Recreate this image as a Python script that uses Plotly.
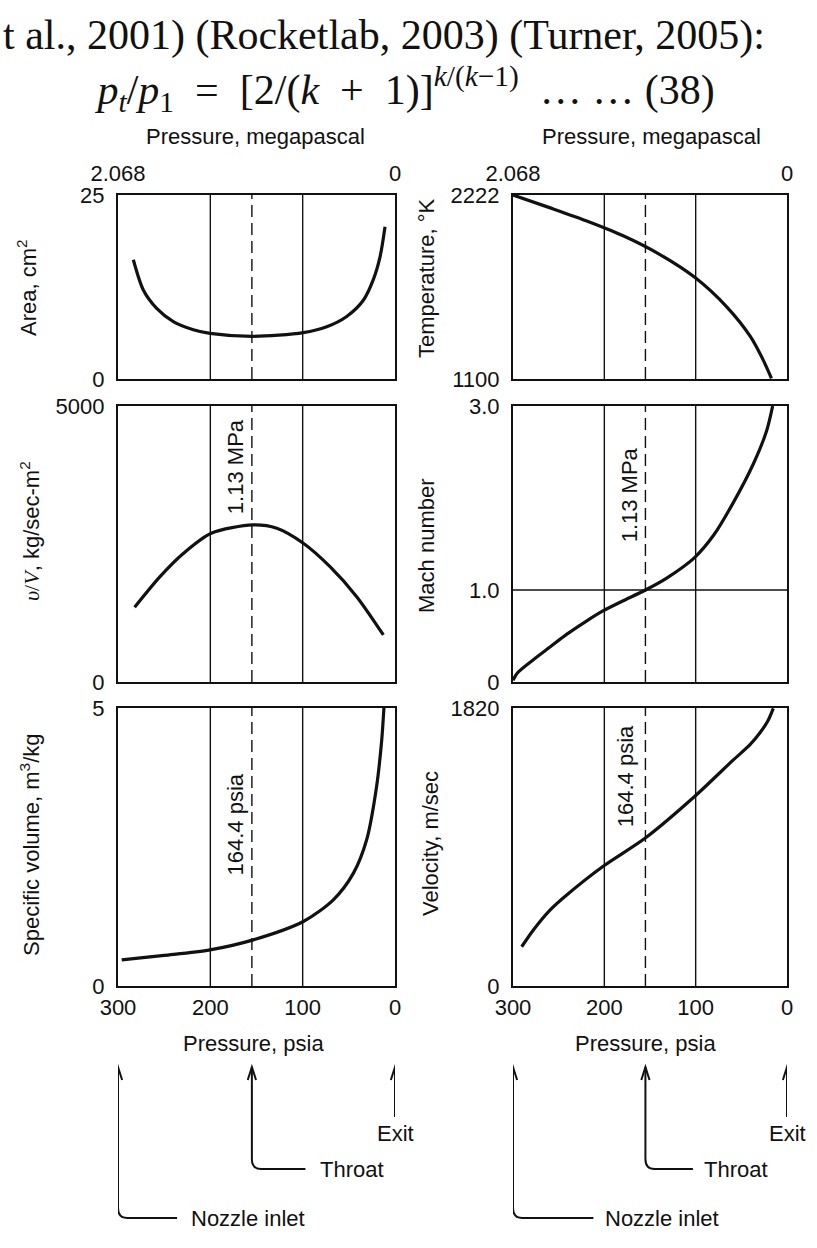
import plotly.graph_objects as go

# values (pressure in psia on every x axis)
area_psia = [283.4, 272.6, 258.1, 240.1, 218.4, 200.4, 154.5, 99.3, 74, 52.3, 34.3, 23.5, 16.2, 10.8]
area_cm2 = [16.2, 12.1, 9.6, 7.8, 6.7, 6.2, 5.8, 6.3, 7.1, 8.5, 10.7, 13.5, 16.6, 20.7]

temp_psia = [300, 260, 220, 180, 140, 101, 66, 40, 26, 17]
temp_K = [2222, 2145, 2065, 1975, 1862, 1720, 1540, 1358, 1215, 1104]

rhov_psia = [282, 254.5, 229, 199, 154, 128, 99.3, 70.4, 41.5, 12.6]
rhov = [1354, 1908, 2332, 2694, 2845, 2785, 2513, 2089, 1546, 852]

mach_psia = [300, 295, 278, 259.5, 241, 220, 202, 180, 155, 131.7, 101.5, 80, 58.8, 36.9, 22.3, 15.7]
mach = [0.02, 0.10, 0.24, 0.38, 0.52, 0.66, 0.77, 0.88, 1.0, 1.13, 1.35, 1.6, 1.95, 2.37, 2.73, 3.0]

spvol_psia = [296, 250, 200.4, 153.5, 99.3, 66.8, 45, 30.7, 20, 14.4, 12]
spvol = [0.47, 0.55, 0.65, 0.83, 1.16, 1.55, 2.03, 2.63, 3.58, 4.42, 5.0]

vel_psia = [290.5, 277.7, 259.5, 241.2, 202, 155.5, 101.5, 58.8, 40.5, 29.6, 21, 15]
vel = [257, 367, 497, 596, 781, 967, 1239, 1480, 1580, 1658, 1735, 1818]

psia_ticks = [300, 200, 100, 0]
mpa_ticks = ["2.068", "0"]
grid_psia = [200, 100]
throat_psia = 155

W, H = 817, 1248
SANS = "Liberation Sans, Arial, sans-serif"
SERIF = "Liberation Serif, Times New Roman, serif"
INK = "#111111"
NB = "\u00a0"


def fx(p):
    return p / W


def fy(p):
    return 1 - p / H


cols = [(118, 395), (513, 787)]
rows = [(195, 379), (406, 682), (708, 986)]

panels = [
    # (suffix, col, row, x, y, yrange, yticks, yticktext)
    ("", 0, 0, area_psia, area_cm2, [0, 25], [0, 25], ["0", "25"]),
    ("2", 1, 0, temp_psia, temp_K, [1100, 2222], [1100, 2222], ["1100", "2222"]),
    ("3", 0, 1, rhov_psia, rhov, [0, 5000], [0, 5000], ["0", "5000"]),
    ("4", 1, 1, mach_psia, mach, [0, 3.0], [0, 1.0, 3.0], ["0", "1.0", "3.0"]),
    ("5", 0, 2, spvol_psia, spvol, [0, 5], [0, 5], ["0", "5"]),
    ("6", 1, 2, vel_psia, vel, [0, 1820], [0, 1820], ["0", "1820"]),
]

fig = go.Figure()
shapes = []
layout_axes = {}

for suf, c, r, xs, ys, yr, yt, ytt in panels:
    xa, ya = "x" + suf, "y" + suf
    fig.add_trace(go.Scatter(x=xs, y=ys, mode="lines", xaxis=xa, yaxis=ya,
                             line=dict(color=INK, width=3.2, shape="spline", smoothing=0.8),
                             showlegend=False, hoverinfo="skip"))
    xdict = dict(domain=[fx(cols[c][0]), fx(cols[c][1])], range=[300, 0], anchor=ya,
                 automargin=False, showgrid=False, zeroline=False, showline=True, mirror=True,
                 linecolor=INK, linewidth=2.2, ticks="",
                 tickfont=dict(family=SANS, size=22, color=INK))
    if r == 0:
        xdict.update(side="top", tickvals=[300, 0], ticktext=mpa_ticks,
                     ticks="outside", ticklen=3, tickcolor="rgba(0,0,0,0)")
    elif r == 2:
        xdict.update(tickvals=psia_ticks, ticktext=[str(v) for v in psia_ticks])
    else:
        xdict.update(showticklabels=False)
    ydict = dict(domain=[fy(rows[r][1]), fy(rows[r][0])], range=yr, anchor=xa,
                 automargin=False, showgrid=False, zeroline=False, showline=True, mirror=True,
                 linecolor=INK, linewidth=2.2, ticks="outside", ticklen=7,
                 tickcolor="rgba(0,0,0,0)", tickvals=yt, ticktext=ytt,
                 tickfont=dict(family=SANS, size=22, color=INK))
    layout_axes["xaxis" + suf] = xdict
    layout_axes["yaxis" + suf] = ydict
    for g in grid_psia:
        shapes.append(dict(type="line", xref=xa, yref=ya + " domain", x0=g, x1=g, y0=0, y1=1,
                           line=dict(color=INK, width=1.4)))
    shapes.append(dict(type="line", xref=xa, yref=ya + " domain", x0=throat_psia, x1=throat_psia,
                       y0=0, y1=1, line=dict(color=INK, width=1.4, dash="12px,6px")))

# Mach 1.0 reference line
shapes.append(dict(type="line", xref="x4 domain", yref="y4", x0=0, x1=1, y0=1.0, y1=1.0,
                   line=dict(color=INK, width=1.4)))

annotations = []


def note(text, x, y, xref="paper", yref="paper", size=22, angle=0, xanchor="center",
         family=SANS, align="center"):
    annotations.append(dict(text=text, x=x, y=y, xref=xref, yref=yref, showarrow=False,
                            textangle=angle, xanchor=xanchor, yanchor="middle", align=align,
                            font=dict(family=family, size=size, color=INK)))


# text above the figure (tail of a sentence, then the throat pressure ratio)
line_ref = "t al., 2001) (Rocketlab, 2003) (Turner, 2005):"
line_eq = (NB * 9 + "<i>p</i><sub><i>t</i></sub>/<i>p</i><sub>1</sub>" + NB * 2 + "=" + NB * 2
           + "[2/(<i>k</i>" + NB * 2 + "+" + NB * 2 + "1)]<sup><i>k</i>/(<i>k</i>−1)</sup>"
           + NB * 2 + "… … (38)")
note(line_ref + "<br>" + line_eq, fx(1), fy(65), size=42, xanchor="left", family=SERIF,
     align="left")

note("Pressure, megapascal", fx(255), fy(137))
note("Pressure, megapascal", fx(651), fy(137))
note("Pressure, psia", fx(253), fy(1043))
note("Pressure, psia", fx(645), fy(1043))

# y axis titles
note("Area, cm<sup>2</sup>", fx(27), fy(288), angle=-90)
note("<span style='font-family:Liberation Serif'><i>υ</i>/<i>V</i></span>, kg/sec-m<sup>2</sup>",
     fx(30), fy(531), angle=-90)
note("Specific volume, m<sup>3</sup>/kg", fx(30), fy(845), angle=-90)
note("Temperature, °K", fx(426), fy(278), angle=-90)
note("Mach number", fx(426), fy(545), angle=-90)
note("Velocity, m/sec", fx(430), fy(844), angle=-90)

# throat labels along the dashed lines
note("1.13 MPa", 172, 3896, xref="x3", yref="y3", angle=-90)
note("1.13 MPa", 173, 2.04, xref="x4", yref="y4", angle=-90)
note("164.4 psia", 173, 2.91, xref="x5", yref="y5", angle=-90)
note("164.4 psia", 176, 1375, xref="x6", yref="y6", angle=-90)

# station pointers under the bottom axes
stations = {"inlet": 300, "throat": throat_psia, "exit": 0}
leaders = {"x5": dict(throat_end=97, throat_text=83, inlet_end=236, inlet_text=223),
           "x6": dict(throat_end=103, throat_text=93, inlet_end=212, inlet_text=201)}
tip_y, exit_y, throat_y, inlet_y = 1067, 1117, 1169, 1218


def arrow_head(xa, xv):
    w = 4.5
    return dict(type="path", xref=xa, yref="paper",
                path=f"M {xv + w},{fy(tip_y + 13)} L {xv},{fy(tip_y)} L {xv - w},{fy(tip_y + 13)}",
                line=dict(color=INK, width=2))


for xa, ld in leaders.items():
    xi, xt, xe = stations["inlet"], stations["throat"], stations["exit"]
    rr = 10.0  # corner radius in psia
    ry = 10
    shapes.append(dict(type="path", xref=xa, yref="paper", line=dict(color=INK, width=2),
                       path=f"M {xe},{fy(tip_y)} L {xe},{fy(exit_y)}"))
    shapes.append(dict(type="path", xref=xa, yref="paper", line=dict(color=INK, width=2),
                       path=f"M {xt},{fy(tip_y)} L {xt},{fy(throat_y - ry)} "
                            f"Q {xt},{fy(throat_y)} {xt - rr},{fy(throat_y)} "
                            f"L {ld['throat_end']},{fy(throat_y)}"))
    shapes.append(dict(type="path", xref=xa, yref="paper", line=dict(color=INK, width=2),
                       path=f"M {xi},{fy(tip_y)} L {xi},{fy(inlet_y - ry)} "
                            f"Q {xi},{fy(inlet_y)} {xi - rr},{fy(inlet_y)} "
                            f"L {ld['inlet_end']},{fy(inlet_y)}"))
    for xv in (xi, xt, xe):
        shapes.append(arrow_head(xa, xv))
    note("Exit", xe, fy(1133), xref=xa)
    note("Throat", ld["throat_text"], fy(throat_y), xref=xa, xanchor="left")
    note("Nozzle inlet", ld["inlet_text"], fy(inlet_y), xref=xa, xanchor="left")

fig.update_layout(width=W, height=H, margin=dict(l=0, r=0, t=0, b=0, pad=0),
                  paper_bgcolor="white", plot_bgcolor="white",
                  shapes=shapes, annotations=annotations, **layout_axes)

# the page's default body margin would push the 817px figure off the window
fig.write_html("out.html", config={"displayModeBar": False},
               post_script="document.body.style.margin='0';"
                           "document.body.style.overflow='hidden';")
